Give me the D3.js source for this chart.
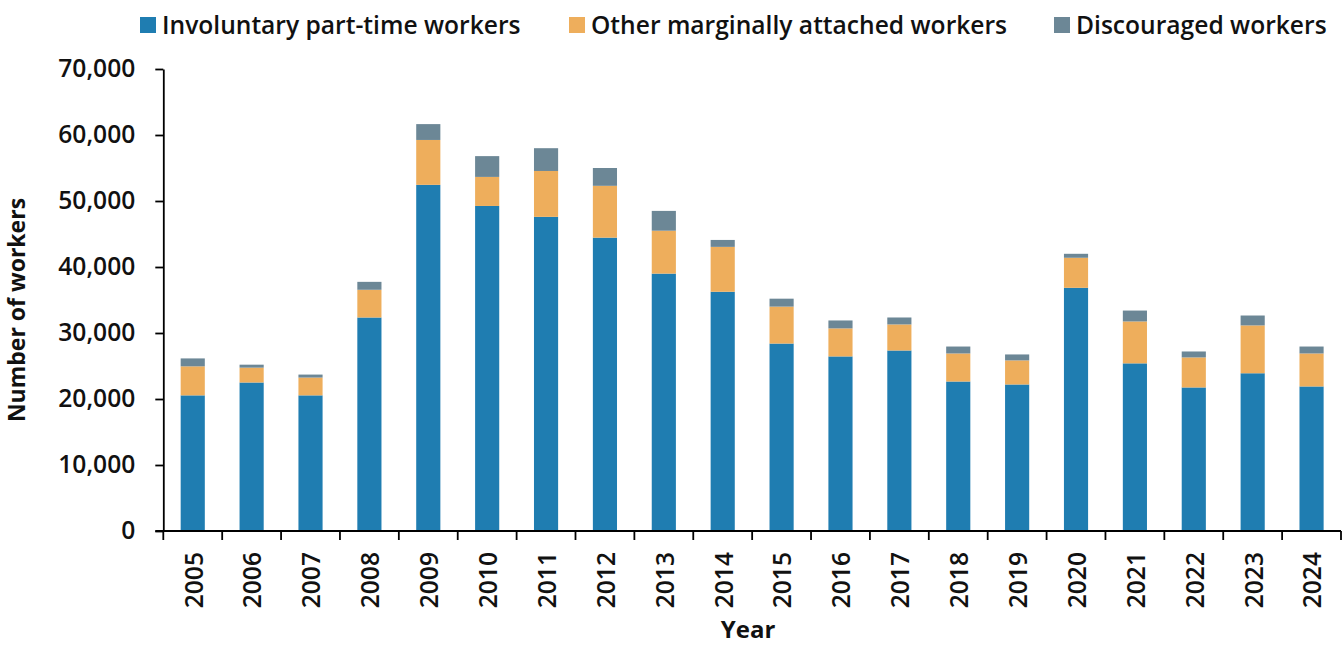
<!DOCTYPE html>
<html>
<head>
<meta charset="utf-8">
<script src="https://cdn.jsdelivr.net/npm/d3@7"></script>
<style>
  html, body { margin: 0; padding: 0; background: #fff; }
  svg { display: block; }
  text { font-family: "Open Sans", "Noto Sans", sans-serif; fill: #111; }
</style>
</head>
<body>
<svg id="chart" width="1344" height="645"></svg>
<script>
const years = ["2005","2006","2007","2008","2009","2010","2011","2012","2013","2014","2015","2016","2017","2018","2019","2020","2021","2022","2023","2024"];
const involuntary = [20550,22500,20550,32350,52450,49250,47600,44450,39000,36250,28400,26450,27350,22650,22200,36850,25400,21750,23900,21900];
const otherMarginal = [4400,2250,2700,4200,6800,4400,6950,7850,6500,6800,5600,4250,3950,4250,3650,4550,6350,4550,7250,5000];
const discouraged = [1200,450,450,1200,2400,3150,3450,2700,3000,1050,1200,1200,1050,1050,900,600,1650,900,1500,1050];
const seriesNames = ["Involuntary part-time workers","Other marginally attached workers","Discouraged workers"];
const seriesColors = ["#1f7db1","#eeae5c","#6c8796"];
const yTicks = [0,10000,20000,30000,40000,50000,60000,70000];

const svg = d3.select("#chart");
const mLeft = 163.3, mRight = 1341, mTop = 69, mBottom = 531;
const fs = 24.6;

const rows = years.map((yr,i) => ({year: yr, s0: involuntary[i], s1: otherMarginal[i], s2: discouraged[i]}));
const stacked = d3.stack().keys(["s0","s1","s2"])(rows);

const x = d3.scaleBand().domain(years).range([mLeft, mRight]).paddingInner(0.59).paddingOuter(0.295);
const y = d3.scaleLinear().domain([0, 70000]).range([mBottom, mTop]);
const color = d3.scaleOrdinal().domain(["s0","s1","s2"]).range(seriesColors);

// bars
svg.append("g").selectAll("g").data(stacked).join("g")
  .attr("fill", d => color(d.key))
  .selectAll("rect").data(d => d).join("rect")
  .attr("x", d => x(d.data.year))
  .attr("width", x.bandwidth())
  .attr("y", d => y(d[1]))
  .attr("height", d => y(d[0]) - y(d[1]));

// y axis
const yAxis = svg.append("g").attr("transform", `translate(${mLeft},0)`)
  .call(d3.axisLeft(y).tickValues(yTicks).tickFormat(d3.format(",")).tickSize(8).tickSizeOuter(0).tickPadding(20));
yAxis.select(".domain").attr("stroke", "#000").attr("stroke-width", 1.8);
yAxis.selectAll(".tick line").attr("stroke", "#000").attr("stroke-width", 1.8);
yAxis.selectAll(".tick text").attr("font-size", fs).attr("font-weight", 600)
  .attr("font-family", "'Open Sans', sans-serif").attr("fill", "#111");

// x axis: line + boundary ticks
const step = x.step();
const xg = svg.append("g");
xg.append("line").attr("x1", mLeft - 8).attr("x2", mRight).attr("y1", mBottom).attr("y2", mBottom)
  .attr("stroke", "#000").attr("stroke-width", 1.8);
xg.selectAll("line.tk").data(d3.range(years.length + 1)).join("line").attr("class","tk")
  .attr("x1", i => mLeft + i * step).attr("x2", i => mLeft + i * step)
  .attr("y1", mBottom).attr("y2", mBottom + 9)
  .attr("stroke", "#000").attr("stroke-width", 1.8);
xg.selectAll("text").data(years).join("text")
  .attr("transform", d => `translate(${x(d) + x.bandwidth()/2 + 1},${mBottom + 21}) rotate(-90)`)
  .attr("text-anchor", "end")
  .attr("dy", "0.36em")
  .attr("font-size", fs).attr("font-weight", 600)
  .text(d => d);

// axis titles
svg.append("text").attr("x", (mLeft + mRight) / 2 - 4).attr("y", 638)
  .attr("text-anchor", "middle").attr("font-size", 24).attr("font-weight", 700).text("Year");
svg.append("text").attr("transform", "translate(25,310) rotate(-90)")
  .attr("text-anchor", "middle").attr("font-size", 23).attr("font-weight", 700).text("Number of workers");

// legend
const legendX = [140, 569, 1054];
const lg = svg.append("g");
seriesNames.forEach((name, i) => {
  lg.append("rect").attr("x", legendX[i]).attr("y", 17).attr("width", 16).attr("height", 16).attr("fill", seriesColors[i]);
  lg.append("text").attr("x", legendX[i] + 22).attr("y", 25).attr("dy", "0.36em")
    .attr("font-size", fs).attr("font-weight", 600).text(name);
});
</script>
</body>
</html>
